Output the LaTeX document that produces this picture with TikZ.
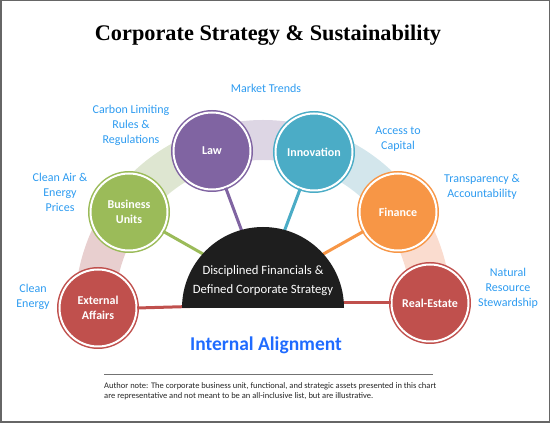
\documentclass[tikz,border=0pt]{standalone}
\usepackage{fontspec}
\setmainfont{Carlito}
\newfontfamily\titlefont{Liberation Serif}
\usetikzlibrary{positioning}

\definecolor{extred}{HTML}{C0504D}
\definecolor{bugreen}{HTML}{9BBB59}
\definecolor{lawpurple}{HTML}{8064A2}
\definecolor{innoteal}{HTML}{4BACC6}
\definecolor{finorange}{HTML}{F79646}
\definecolor{corefill}{HTML}{1E1E1E}
\definecolor{bandpink}{HTML}{E8CFCF}
\definecolor{bandgreen}{HTML}{DEE6D1}
\definecolor{bandpurple}{HTML}{DDD6E4}
\definecolor{bandblue}{HTML}{D3E6EC}
\definecolor{bandpeach}{HTML}{FADCCF}
\definecolor{labelblue}{HTML}{2D9BF0}
\definecolor{headblue}{HTML}{1F6BFF}

\tikzset{
  bubble/.style={circle, fill=#1, draw=#1, double=white, double distance=2pt,
    line width=1.5pt, minimum size=77pt, inner sep=0pt, text=white, align=center,
    font=\fontsize{12}{14.5}\selectfont\bfseries},
  spoke/.style={line width=3pt, #1},
  band/.style={line width=40pt, #1},
  outlabel/.style={text=labelblue, align=center, font=\fontsize{12}{15}\selectfont}
}

\begin{document}
\begin{tikzpicture}[x=1pt,y=1pt]
  \useasboundingbox (0,0) rectangle (550,423);
  \draw[black!60, line width=1.5pt] (0.75,0.75) rectangle (549.25,422.25);

  \node[font=\titlefont\fontsize{22.3}{25}\selectfont\bfseries] (title) at (268,388) {Corporate Strategy \& Sustainability};

  \coordinate (c) at (263,115);
  \coordinate (hub) at (263,135);
  \coordinate (hubw) at (190,116.5);
  \coordinate (hube) at (336,120);

  % arc behind the circles
  \draw[band=bandpink]   ([shift={(180:168)}]c) arc[start angle=180, end angle=144, radius=168];
  \draw[band=bandgreen]  ([shift={(144:168)}]c) arc[start angle=144, end angle=108, radius=168];
  \draw[band=bandpurple] ([shift={(108:168)}]c) arc[start angle=108, end angle=72, radius=168];
  \draw[band=bandblue]   ([shift={(72:168)}]c)  arc[start angle=72, end angle=36, radius=168];
  \draw[band=bandpeach]  ([shift={(36:168)}]c)  arc[start angle=36, end angle=0, radius=168];

  \node[bubble=extred]    (ext)  at (98,115)  {External\\Affairs};
  \node[bubble=bugreen]   (bu)   at (129,211) {Business\\Units};
  \node[bubble=lawpurple] (law)  at (212,272) {Law};
  \node[bubble=innoteal]  (inno) at (314,271) {Innovation};
  \node[bubble=finorange] (fin)  at (398,211) {Finance};
  \node[bubble=extred]    (real) at (430,120) {Real-Estate};

  \draw[spoke=extred]    (ext.east) -- (hubw);
  \draw[spoke=bugreen]   (bu)   -- (hub);
  \draw[spoke=lawpurple] (law)  -- (hub);
  \draw[spoke=innoteal]  (inno) -- (hub);
  \draw[spoke=finorange] (fin)  -- (hub);
  \draw[spoke=extred]    (real.west) -- (hube);

  \fill[corefill] ([shift={(180:81)}]c) arc[start angle=180, end angle=0, radius=81] -- cycle;
  \node[text=white, align=center, font=\fontsize{12.7}{19}\selectfont] (core) at (263,142.5)
    {Disciplined Financials \&\\Defined Corporate Strategy};

  \node[outlabel] (trends)  at (266,335)   {Market Trends};
  \node[outlabel] (carbon)  at (131,298)   {Carbon Limiting\\Rules \&\\Regulations};
  \node[outlabel] (capital) at (398,283.5) {Access to\\Capital};
  \node[outlabel] (air)     at (60,231)    {Clean Air \&\\Energy\\Prices};
  \node[outlabel] (clean)   at (33,126)    {Clean\\Energy};
  \node[outlabel] (transp)  at (482,236.5) {Transparency \&\\Accountability};
  \node[outlabel] (natural) at (508,135)   {Natural\\Resource\\Stewardship};

  \node[text=headblue, font=\fontsize{19.5}{22}\selectfont\bfseries] (align) at (266,78) {Internal Alignment};

  \draw[black!55, line width=0.8pt] (104,48.5) -- (433,48.5);
  \node[anchor=north west, inner sep=0pt, align=left, text=black!85, font=\fontsize{8.5}{10}\selectfont] (note) at (104,40.5)
    {Author note: The corporate business unit, functional, and strategic assets presented in this chart\\are representative and not meant to be an all-inclusive list, but are illustrative.};
\end{tikzpicture}
\end{document}
